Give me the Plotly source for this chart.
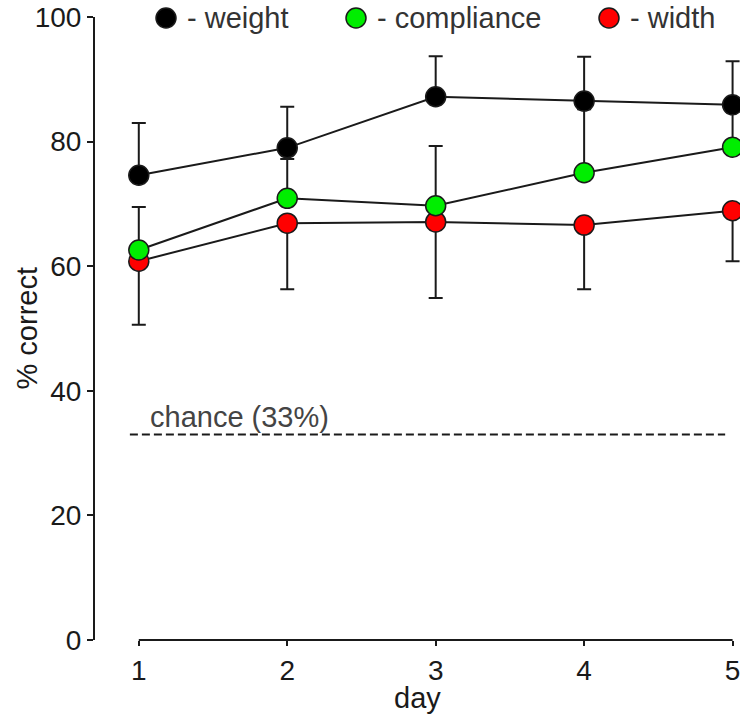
import plotly.graph_objects as go

days = [1, 2, 3, 4, 5]

weight = [74.6, 79.0, 87.2, 86.5, 85.9]
weight_err = [8.4, 6.6, 6.5, 7.1, 7.0]

compliance = [62.6, 70.9, 69.7, 75.0, 79.1]
compliance_err = [6.9, 6.3, 9.6, 10.2, 6.0]

width = [60.8, 66.9, 67.1, 66.6, 68.9]
width_err = [10.2, 10.6, 12.2, 10.3, 8.1]

chance_x = [0.94, 4.95]
chance_y = [33, 33]

y_ticks = [0, 20, 40, 60, 80, 100]

FONT = "Liberation Sans, Arial, sans-serif"
INK = "#1a1a1a"

fig = go.Figure()

fig.add_trace(go.Scatter(
    x=chance_x, y=chance_y, mode="lines",
    line=dict(color=INK, width=2, dash="8px,4px"),
    showlegend=False, hoverinfo="skip",
))


def series(y, err, up, colour):
    zeros = [0] * len(err)
    return go.Scatter(
        x=days, y=y, mode="lines+markers",
        line=dict(color=INK, width=2),
        marker=dict(size=20, color=colour, line=dict(color=INK, width=1.5)),
        error_y=dict(type="data", symmetric=False,
                     array=err if up else zeros,
                     arrayminus=zeros if up else err,
                     color=INK, thickness=2, width=7),
        showlegend=False,
    )


# red bars point down, black and green point up
fig.add_trace(series(width, width_err, False, "#ff0000"))
fig.add_trace(series(compliance, compliance_err, True, "#00ee00"))
fig.add_trace(series(weight, weight_err, True, "#000000"))

# x axis line only spans day 1..5 (R style)
fig.add_shape(type="line", xref="x", yref="paper", x0=days[0], x1=days[-1],
              y0=0, y1=0, line=dict(color=INK, width=2))

# legend drawn by hand across the top
legend = [("- weight", "#000000", 166), ("- compliance", "#00ee00", 356), ("- width", "#ff0000", 609)]
for label, colour, px in legend:
    xp = (px - 95) / 645
    fig.add_shape(type="circle", xref="paper", yref="paper",
                  xsizemode="pixel", ysizemode="pixel",
                  xanchor=xp, yanchor=1, x0=-10, x1=10, y0=-11, y1=9,
                  fillcolor=colour, line=dict(color=INK, width=1.5))
    fig.add_annotation(text=label, xref="paper", yref="paper", x=xp, y=1,
                       xanchor="left", yanchor="middle", xshift=19, yshift=-1,
                       showarrow=False, font=dict(size=29, color="#333333"))

fig.add_annotation(text="chance (33%)", x=1.06, y=35.8, xanchor="left", yanchor="middle",
                   showarrow=False, font=dict(size=29, color="#444444"))

fig.add_annotation(text="day", xref="paper", yref="paper", x=0.5, y=0,
                   xanchor="center", yanchor="middle", yshift=-58,
                   showarrow=False, font=dict(size=29, color=INK))
fig.add_annotation(text="% correct", xref="paper", yref="paper", x=0, y=0.5,
                   xanchor="center", yanchor="middle", xshift=-69, textangle=-90,
                   showarrow=False, font=dict(size=29, color=INK))

fig.update_layout(
    width=750, height=719,
    margin=dict(l=95, r=10, t=17, b=79),
    paper_bgcolor="white", plot_bgcolor="white",
    font=dict(family=FONT, size=27, color=INK),
    showlegend=False,
    xaxis=dict(range=[0.705, 5.05], tickvals=days, ticks="outside", ticklen=5,
               tickwidth=2, tickcolor=INK, showgrid=False, zeroline=False,
               showline=False, automargin=False, tickfont=dict(size=28)),
    yaxis=dict(range=[0, 100], tickvals=y_ticks, ticks="outside", ticklen=6,
               tickwidth=2, tickcolor=INK, showgrid=False, zeroline=False,
               showline=True, linecolor=INK, linewidth=2, automargin=False,
               ticklabeloverflow="allow", tickfont=dict(size=28)),
)

# drop the default 8px body margin so the figure sits at the page corner
fig.write_html("out.html", config={"displayModeBar": False},
               post_script="document.body.style.margin = '0px';")
